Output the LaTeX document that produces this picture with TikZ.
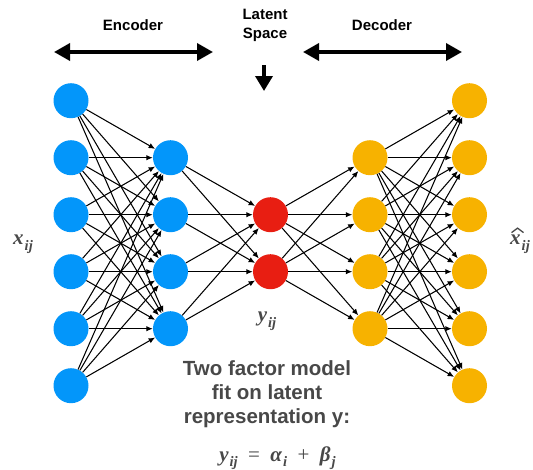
\documentclass[tikz,border=0pt]{standalone}
\usepackage{fontspec}
\setmainfont{Liberation Sans}
\newfontfamily\varfont{Liberation Serif}
\usetikzlibrary{arrows.meta}
\definecolor{encblue}{RGB}{3,150,250}
\definecolor{decorange}{RGB}{247,178,0}
\definecolor{latred}{RGB}{232,30,18}
\definecolor{textgray}{RGB}{72,72,72}
% bold italic variable with a subscript
\newcommand{\var}[2]{{\bfseries\itshape #1\raisebox{-0.27em}{\fontsize{14.5}{14.5}\selectfont\kern1pt #2}}}
\begin{document}
\begin{tikzpicture}[x=1pt,y=-1pt,
  neuron/.style={circle,minimum size=35pt,inner sep=0pt},
  enc/.style={neuron,fill=encblue},
  lat/.style={neuron,fill=latred},
  dec/.style={neuron,fill=decorange},
  link/.style={-{Latex[length=6.5pt,width=5.5pt]},line width=1.05pt},
  bigarrow/.style={line width=3.5pt,{Triangle[length=16pt,width=17pt]}-{Triangle[length=16pt,width=17pt]}},
  downarrow/.style={line width=3.5pt,-{Triangle[length=15pt,width=17pt]}},
  head/.style={font=\bfseries\fontsize{15}{19}\selectfont,align=center},
  caption/.style={font=\bfseries\fontsize{20.5}{24}\selectfont,text=textgray,align=center},
  varlabel/.style={font=\varfont\fontsize{21}{24}\selectfont,text=textgray,inner sep=0pt},
  accent/.style={draw=textgray,line width=1.3pt,line join=miter}
]
\useasboundingbox (0,0) rectangle (533,469);

% layers
\foreach \k in {1,...,6} \node[enc] (a\k) at (71, {43.7+57*\k}) {};
\foreach \k in {1,...,4} \node[enc] (b\k) at (170.5, {100.7+57*\k}) {};
\foreach \k in {1,2}     \node[lat] (c\k) at (270.5, {157.7+57*\k}) {};
\foreach \k in {1,...,4} \node[dec] (d\k) at (370, {100.7+57*\k}) {};
\foreach \k in {1,...,6} \node[dec] (e\k) at (469.5, {43.7+57*\k}) {};

% fully connected links
\foreach \i in {1,...,6} \foreach \j in {1,...,4} \draw[link] (a\i) -- (b\j);
\foreach \i in {1,...,4} \foreach \j in {1,2}     \draw[link] (b\i) -- (c\j);
\foreach \i in {1,2}     \foreach \j in {1,...,4} \draw[link] (c\i) -- (d\j);
\foreach \i in {1,...,4} \foreach \j in {1,...,6} \draw[link] (d\i) -- (e\j);

% headings and span arrows
\node[head] (enc) at (133,25) {Encoder};
\node[head] (latsp) at (265,25.5) {Latent\\Space};
\node[head] (dech) at (382,25) {Decoder};
\coordinate (encL) at (54,52);
\coordinate (encR) at (213,52);
\coordinate (decL) at (303,52);
\coordinate (decR) at (462,52);
\coordinate (downT) at (264,65);
\coordinate (downB) at (264,91);
\draw[bigarrow] (encL) -- (encR);
\draw[bigarrow] (decL) -- (decR);
\draw[downarrow] (downT) -- (downB);

% variable labels
\node[varlabel] (xin) at (23,244) {\var{x}{ij}};
\node[varlabel] (xout) at (520,244) {\var{x}{ij}};
\coordinate (hatL) at ([xshift=1.5pt,yshift=2pt]xout.north west);
\coordinate (hatT) at ([xshift=7.5pt,yshift=6.5pt]xout.north west);
\coordinate (hatR) at ([xshift=13.5pt,yshift=2pt]xout.north west);
\draw[accent] (hatL) -- (hatT) -- (hatR);
\node[varlabel] (ylat) at (267,321) {\var{y}{ij}};

% model description
\node[caption] (desc) at (267,394) {Two factor model\\fit on latent\\representation y:};
\node[varlabel] (eq) at (277.5,458) {\var{y}{ij}\ \ =\ \ \var{α}{i}\ \ +\ \ \var{β}{j}};
\end{tikzpicture}
\end{document}
